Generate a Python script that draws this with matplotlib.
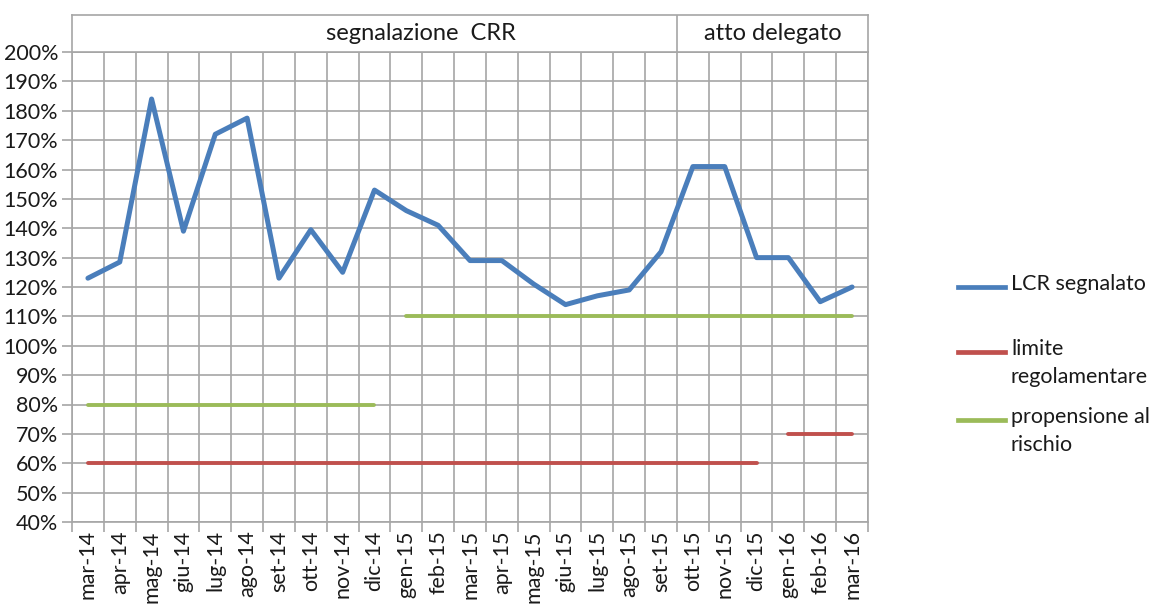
import numpy as np
import matplotlib.pyplot as plt
from matplotlib.lines import Line2D
from matplotlib.ticker import FuncFormatter, MultipleLocator

plt.rcParams['font.family'] = ['Lato', 'DejaVu Sans']

months = ['mar-14', 'apr-14', 'mag-14', 'giu-14', 'lug-14', 'ago-14', 'set-14',
          'ott-14', 'nov-14', 'dic-14', 'gen-15', 'feb-15', 'mar-15', 'apr-15',
          'mag-15', 'giu-15', 'lug-15', 'ago-15', 'set-15', 'ott-15', 'nov-15',
          'dic-15', 'gen-16', 'feb-16', 'mar-16']

lcr = [123, 128.5, 184, 139, 172, 177.5, 123, 139.5, 125, 153, 146, 141, 129, 129,
       121, 114, 117, 119, 132, 161, 161, 130, 130, 115, 120]
# limite regolamentare: 60% until dic-15, 70% from gen-16
limite = [60] * 22 + [np.nan] * 3
limite_2 = [np.nan] * 22 + [70] * 3
# propensione al rischio: 80% until dic-14, 110% from gen-15
propensione = [80] * 10 + [np.nan] * 15
propensione_2 = [np.nan] * 10 + [110] * 15

periods = ['segnalazione  CRR', 'atto delegato']

blue = '#4A7EBB'
red = '#C0504D'
green = '#9BBB59'
grid_c = '#A6A6A6'
txt_c = '#1a1a1a'

fig = plt.figure(figsize=(11.58, 6.05), dpi=100)
ax = fig.add_axes([72 / 1158, 83 / 605, 796 / 1158, 470 / 605])

x = np.arange(len(months))
ax.plot(x, limite, color=red, lw=2.8, solid_capstyle='round')
ax.plot(x, limite_2, color=red, lw=2.8, solid_capstyle='round')
ax.plot(x, propensione, color=green, lw=2.8, solid_capstyle='round')
ax.plot(x, propensione_2, color=green, lw=2.8, solid_capstyle='round')
ax.plot(x, lcr, color=blue, lw=3.6, solid_capstyle='round', solid_joinstyle='round')

ax.set_xlim(-0.5, len(months) - 0.5)
ax.set_ylim(40, 200)
ax.yaxis.set_major_locator(MultipleLocator(10))
ax.yaxis.set_major_formatter(FuncFormatter(lambda v, p: f'{v:.0f}%'))
ax.set_xticks(x)
ax.set_xticklabels(months, rotation=90)
ax.set_xticks(np.arange(-0.5, len(months)), minor=True)

ax.grid(True, which='minor', axis='x', color=grid_c, lw=1.2)
ax.grid(True, which='major', axis='y', color=grid_c, lw=1.2)
ax.set_axisbelow(True)
ax.tick_params(axis='x', which='major', length=0, pad=6, labelsize=15.5, colors=txt_c)
ax.tick_params(axis='x', which='minor', length=7, color=grid_c, width=1.2)
ax.tick_params(axis='y', length=7, color=grid_c, width=1.2, labelsize=15.5, colors=txt_c, pad=3)
for s in ax.spines.values():
    s.set_color(grid_c)
    s.set_linewidth(1.2)

# header boxes with the two regimes
hdr = fig.add_axes([72 / 1158, 553 / 605, 796 / 1158, 37 / 605])
hdr.set_xlim(-0.5, len(months) - 0.5)
hdr.set_ylim(0, 1)
hdr.set_xticks([])
hdr.set_yticks([])
for s in hdr.spines.values():
    s.set_color(grid_c)
    s.set_linewidth(1.2)
hdr.axvline(18.5, color=grid_c, lw=1.2)
hdr.text(10.45, 0.5, periods[0], ha='center', va='center', fontsize=17, color=txt_c)
hdr.text(21.5, 0.5, periods[1], ha='center', va='center', fontsize=17, color=txt_c)

# legend, Excel style: line aligned with first text row
legend_items = [('LCR segnalato', blue, 287), ('limite\nregolamentare', red, 352),
                ('propensione al\nrischio', green, 420)]
for label, col, ypx in legend_items:
    yf = 1 - ypx / 605
    fig.add_artist(Line2D([958 / 1158, 1005 / 1158], [yf, yf], color=col, lw=3.4,
                          transform=fig.transFigure))
    fig.text(1011 / 1158, yf + 13 / 605, label, ha='left', va='top', fontsize=15.5,
             color=txt_c, linespacing=1.5)

fig.savefig('out.png', dpi=100)
